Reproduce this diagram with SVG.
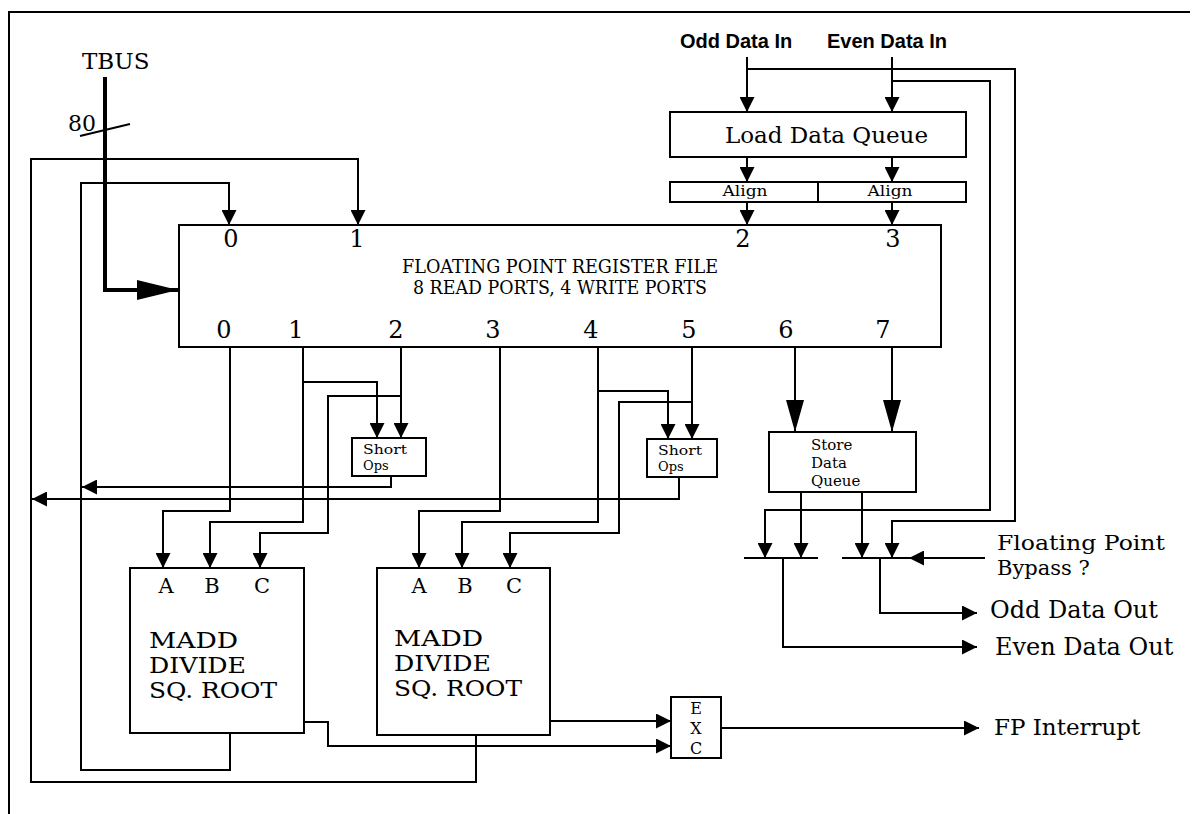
<svg xmlns="http://www.w3.org/2000/svg" width="1198" height="814" viewBox="0 0 1198 814">
<style>
.ln{fill:none;stroke:#000;stroke-width:2}
.bx{fill:#fff;stroke:#000;stroke-width:2}
.t{font-family:"DejaVu Serif","Liberation Serif",serif;fill:#000}
.s{font-family:"Liberation Sans",Arial,sans-serif;fill:#000;font-weight:bold}
.m{text-anchor:middle}
</style>
<defs>
<marker id="a" viewBox="0 0 15 15" refX="15" refY="7.5" markerWidth="15" markerHeight="15" markerUnits="userSpaceOnUse" orient="auto"><path d="M0,0 L15,7.5 L0,15 z"/></marker>
<marker id="big" viewBox="0 0 32 18" refX="32" refY="9" markerWidth="32" markerHeight="18" markerUnits="userSpaceOnUse" orient="auto"><path d="M0,0 L32,9 L0,18 z"/></marker>
<marker id="bus" viewBox="0 0 41 20" refX="41" refY="10" markerWidth="41" markerHeight="20" markerUnits="userSpaceOnUse" orient="auto"><path d="M0,0 L41,10 L0,20 z"/></marker>
</defs>
<rect width="1198" height="814" fill="#fff"/>
<g id="frame"><path class="ln" d="M9,814 V12 H1190"/></g>

<g id="connectors">
<path d="M105,77 V290 H178" fill="none" stroke="#000" stroke-width="4" marker-end="url(#bus)"/>
<path class="ln" d="M80,136 L130,124"/>
<path class="ln" d="M476,735 V782 H31 V159 H358 V225" marker-end="url(#a)"/>
<path class="ln" d="M230,733 V770 H81 V183 H229 V225" marker-end="url(#a)"/>
<path class="ln" d="M747,57 V112" marker-end="url(#a)"/>
<path class="ln" d="M892,57 V112" marker-end="url(#a)"/>
<path class="ln" d="M747,69 H1015 V521 H892 V558" marker-end="url(#a)"/>
<path class="ln" d="M892,81 H990 V510 H765 V558" marker-end="url(#a)"/>
<path class="ln" d="M747,157 V182" marker-end="url(#a)"/>
<path class="ln" d="M892,157 V182" marker-end="url(#a)"/>
<path class="ln" d="M747,202 V225" marker-end="url(#a)"/>
<path class="ln" d="M892,202 V225" marker-end="url(#a)"/>
<path class="ln" d="M230,347 V511 H163 V568" marker-end="url(#a)"/>
<path class="ln" d="M303,347 V522 H210 V568" marker-end="url(#a)"/>
<path class="ln" d="M303,382 H377 V438" marker-end="url(#a)"/>
<path class="ln" d="M401,347 V438" marker-end="url(#a)"/>
<path class="ln" d="M401,396 H328 V533 H260 V568" marker-end="url(#a)"/>
<path class="ln" d="M500,347 V511 H419 V568" marker-end="url(#a)"/>
<path class="ln" d="M598,347 V522 H462 V568" marker-end="url(#a)"/>
<path class="ln" d="M598,391 H668 V439" marker-end="url(#a)"/>
<path class="ln" d="M692,347 V439" marker-end="url(#a)"/>
<path class="ln" d="M692,402 H619 V533 H510 V568" marker-end="url(#a)"/>
<path class="ln" d="M795,347 V432" marker-end="url(#big)"/>
<path class="ln" d="M892,347 V432" marker-end="url(#big)"/>
<path class="ln" d="M391,476 V487 H82" marker-end="url(#a)"/>
<path class="ln" d="M679,477 V499 H32" marker-end="url(#a)"/>
<path class="ln" d="M801,492 V558" marker-end="url(#a)"/>
<path class="ln" d="M862,492 V558" marker-end="url(#a)"/>
<path class="ln" d="M744,558 H818"/>
<path class="ln" d="M842,558 H912"/>
<path class="ln" d="M985,558 H909" marker-end="url(#a)"/>
<path class="ln" d="M783,558 V647 H977" marker-end="url(#a)"/>
<path class="ln" d="M880,558 V613 H977" marker-end="url(#a)"/>
<path class="ln" d="M304,722 H328 V746 H671" marker-end="url(#a)"/>
<path class="ln" d="M550,721 H671" marker-end="url(#a)"/>
<path class="ln" d="M721,728 H979" marker-end="url(#a)"/>
</g>

<g id="tbus">
<text class="t" x="82" y="69" font-size="23">TBUS</text>
<text class="t" x="68" y="131" font-size="22">80</text>
</g>

<g id="regfile">
<rect class="bx" x="179" y="225" width="762" height="122" fill="none"/>
<g class="t m" font-size="24">
<text x="231" y="247">0</text><text x="357" y="247">1</text><text x="743" y="247">2</text><text x="893" y="247">3</text>
<text x="224" y="338">0</text><text x="296" y="338">1</text><text x="396" y="338">2</text><text x="493" y="338">3</text>
<text x="591" y="338">4</text><text x="689" y="338">5</text><text x="786" y="338">6</text><text x="883" y="338">7</text>
</g>
<text class="t m" x="560" y="273" font-size="18" textLength="316" lengthAdjust="spacingAndGlyphs">FLOATING POINT REGISTER FILE</text>
<text class="t m" x="560" y="294" font-size="18" textLength="294" lengthAdjust="spacingAndGlyphs">8 READ PORTS, 4 WRITE PORTS</text>
</g>

<g id="inputs">
<text class="s" x="680" y="48" font-size="20">Odd Data In</text>
<text class="s" x="827" y="48" font-size="20">Even Data In</text>
</g>

<g id="ldq">
<rect class="bx" x="670" y="112" width="296" height="45"/>
<text class="t" x="725" y="143" font-size="23">Load Data Queue</text>
</g>

<g id="align">
<rect class="bx" x="670" y="182" width="296" height="20"/>
<path class="ln" d="M818,182 V202"/>
<text class="t m" x="745" y="196" font-size="15" textLength="45" lengthAdjust="spacingAndGlyphs">Align</text>
<text class="t m" x="890" y="196" font-size="15" textLength="45" lengthAdjust="spacingAndGlyphs">Align</text>
</g>

<g id="shortops1">
<rect class="bx" x="352" y="438" width="74" height="38"/>
<text class="t" x="363" y="454" font-size="13" textLength="44" lengthAdjust="spacingAndGlyphs">Short</text>
<text class="t" x="363" y="470" font-size="13">Ops</text>
</g>

<g id="shortops2">
<rect class="bx" x="647" y="439" width="70" height="38"/>
<text class="t" x="658" y="455" font-size="13" textLength="44" lengthAdjust="spacingAndGlyphs">Short</text>
<text class="t" x="658" y="471" font-size="13">Ops</text>
</g>

<g id="sdq">
<rect class="bx" x="769" y="432" width="147" height="60"/>
<text class="t" x="811" y="450" font-size="15">Store</text>
<text class="t" x="811" y="468" font-size="15">Data</text>
<text class="t" x="811" y="486" font-size="15">Queue</text>
</g>

<g id="madd1">
<rect class="bx" x="130" y="568" width="174" height="165" fill="none"/>
<text class="t m" x="166" y="593" font-size="21">A</text>
<text class="t m" x="212" y="593" font-size="21">B</text>
<text class="t m" x="262" y="593" font-size="21">C</text>
<text class="t" x="149" y="648" font-size="22" textLength="89" lengthAdjust="spacingAndGlyphs">MADD</text>
<text class="t" x="149" y="673" font-size="22" textLength="97" lengthAdjust="spacingAndGlyphs">DIVIDE</text>
<text class="t" x="149" y="698" font-size="22" textLength="128" lengthAdjust="spacingAndGlyphs">SQ. ROOT</text>
</g>

<g id="madd2">
<rect class="bx" x="377" y="568" width="173" height="167" fill="none"/>
<text class="t m" x="419" y="593" font-size="21">A</text>
<text class="t m" x="465" y="593" font-size="21">B</text>
<text class="t m" x="514" y="593" font-size="21">C</text>
<text class="t" x="394" y="646" font-size="22" textLength="89" lengthAdjust="spacingAndGlyphs">MADD</text>
<text class="t" x="394" y="671" font-size="22" textLength="97" lengthAdjust="spacingAndGlyphs">DIVIDE</text>
<text class="t" x="394" y="696" font-size="22" textLength="128" lengthAdjust="spacingAndGlyphs">SQ. ROOT</text>
</g>

<g id="exc">
<rect class="bx" x="671" y="697" width="50" height="61"/>
<text class="t m" x="696" y="714" font-size="16">E</text>
<text class="t m" x="696" y="734" font-size="16">X</text>
<text class="t m" x="696" y="754" font-size="16">C</text>
</g>

<g id="outputs">
<text class="t" x="994" y="735" font-size="23">FP Interrupt</text>
<text class="t" x="997" y="550" font-size="21" textLength="168" lengthAdjust="spacingAndGlyphs">Floating Point</text>
<text class="t" x="997" y="575" font-size="21">Bypass ?</text>
<text class="t" x="990" y="618" font-size="24">Odd Data Out</text>
<text class="t" x="995" y="655" font-size="24">Even Data Out</text>
</g>
</svg>
